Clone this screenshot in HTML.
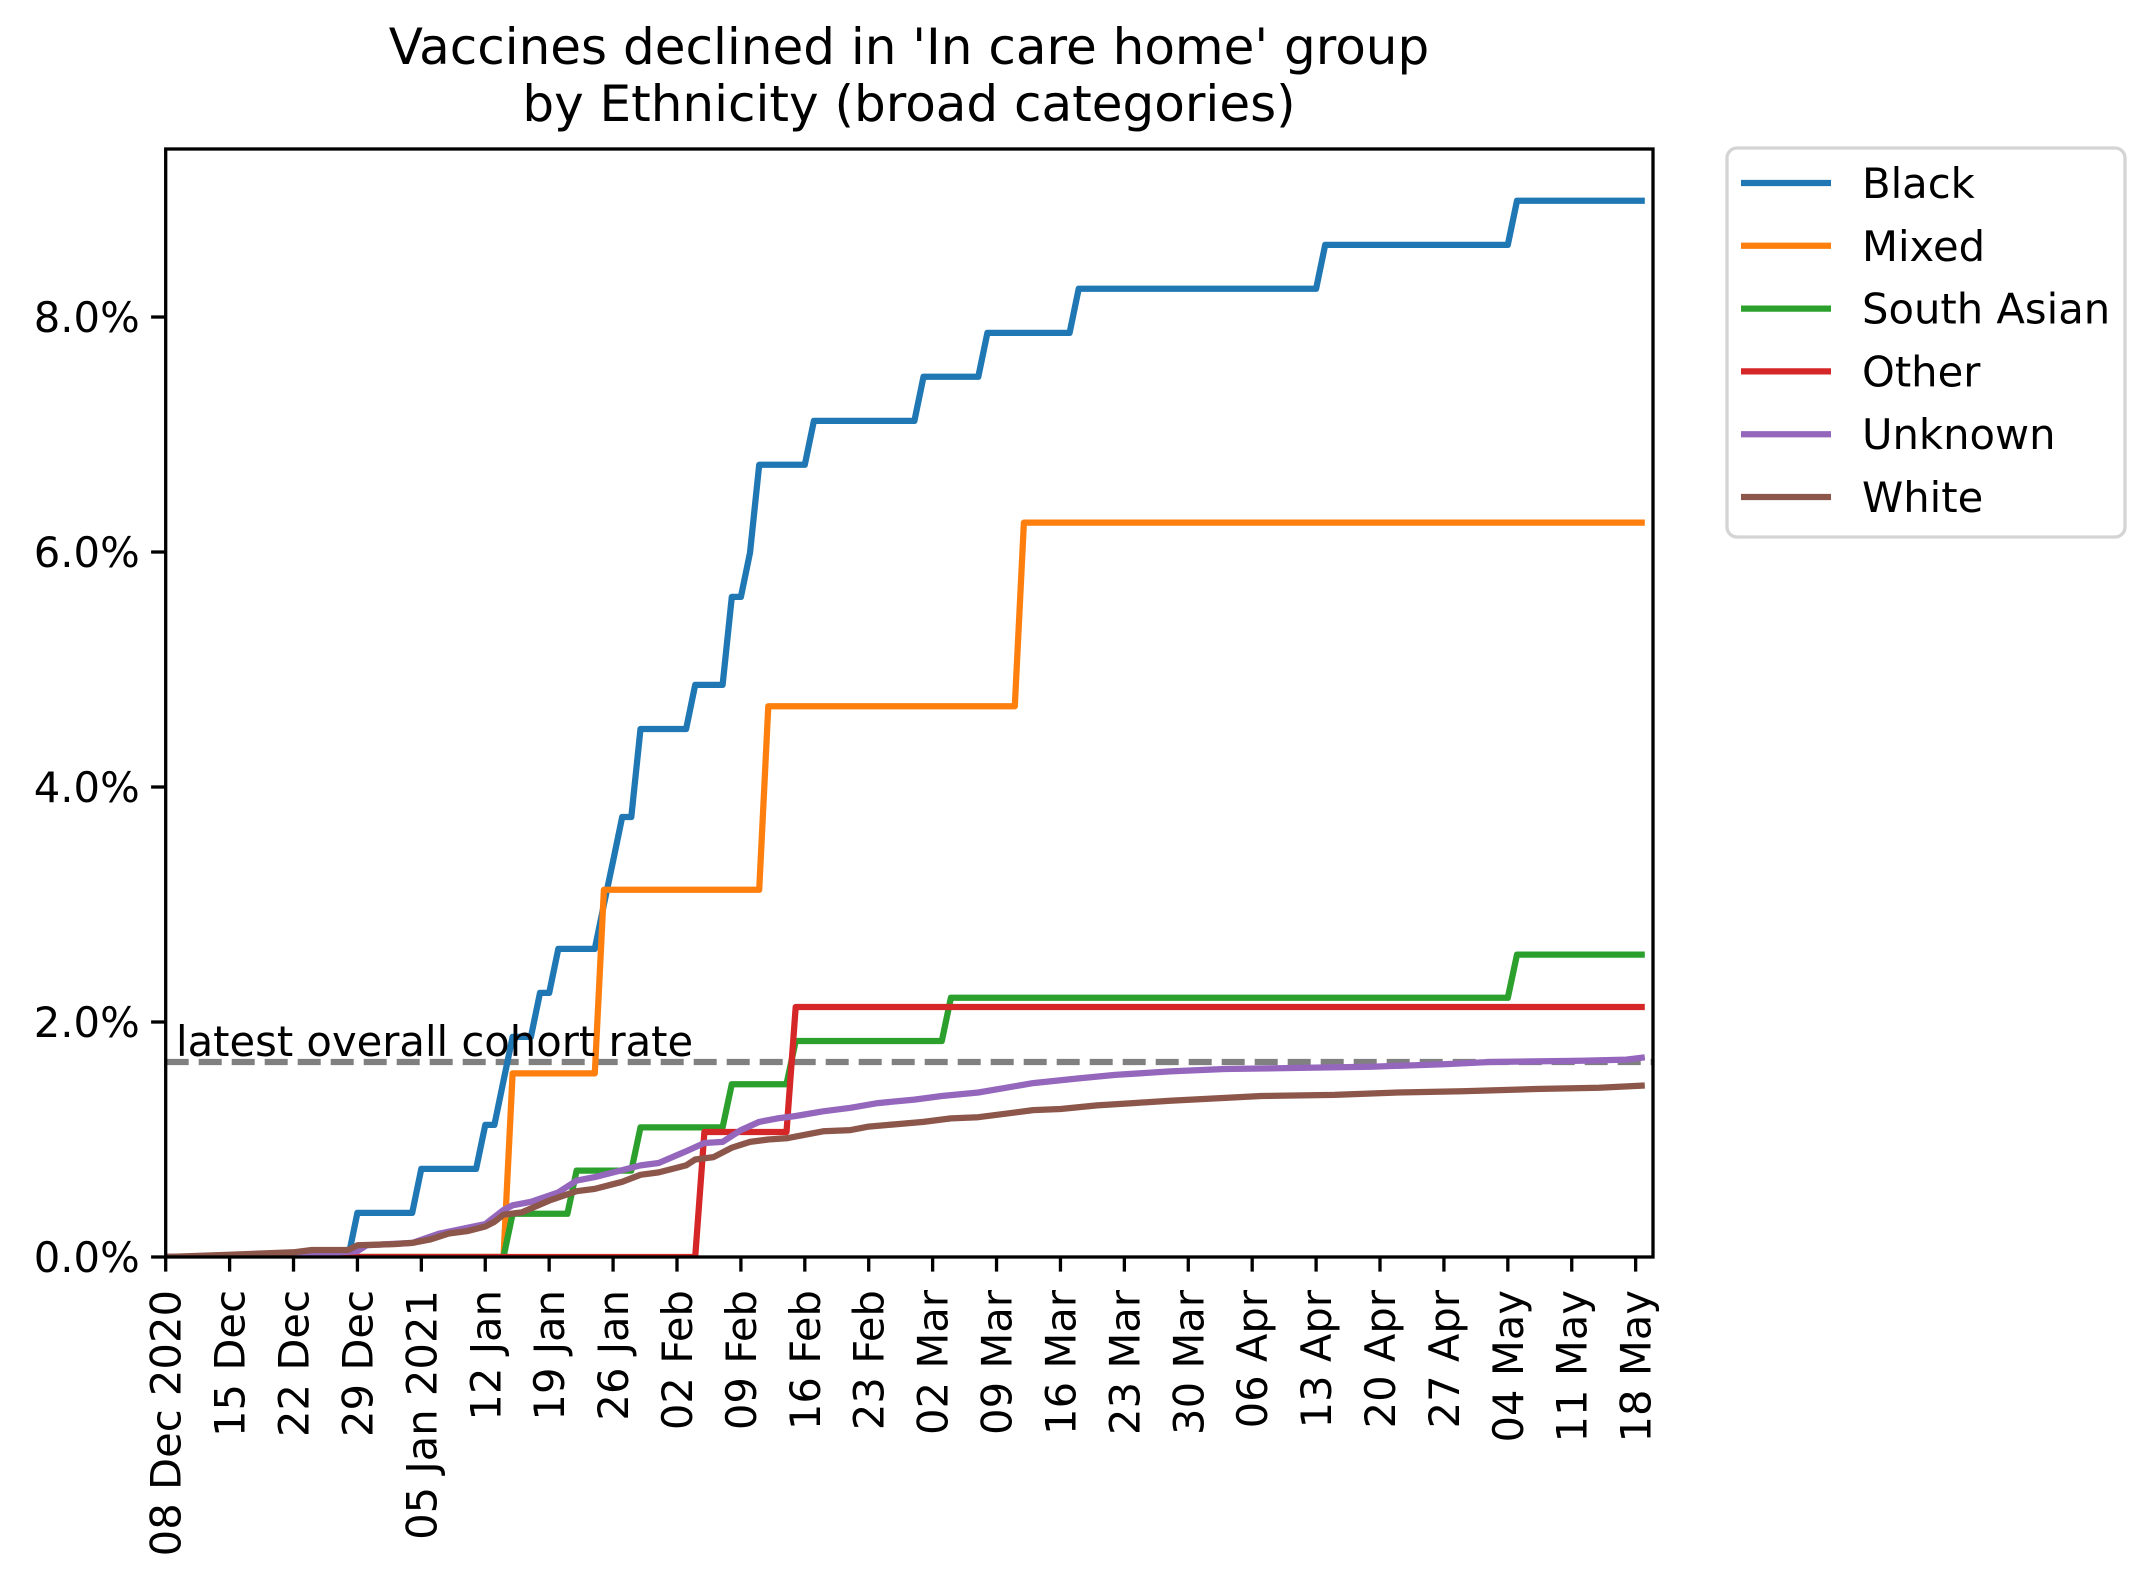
<!DOCTYPE html>
<html><head><meta charset="utf-8"><style>
html,body{margin:0;padding:0;background:#fff}
svg{display:block;font-family:"DejaVu Sans","Liberation Sans",sans-serif}
</style></head><body>
<svg id="chart" width="2155" height="1582" viewBox="0 0 2155 1582" xmlns="http://www.w3.org/2000/svg">
<rect width="2155" height="1582" fill="#fff"/>
<text x="909" y="64" font-size="50" text-anchor="middle">Vaccines declined in 'In care home' group</text>
<text x="909" y="121" font-size="50" text-anchor="middle">by Ethnicity (broad categories)</text>
<g id="plot"></g>
<g id="legend"></g>
</svg>
<script>
// ---- data ----
const seriesNames = ["Black","Mixed","South Asian","Other","Unknown","White"];
const seriesColors = ["#1f77b4","#ff7f0e","#2ca02c","#d62728","#9467bd","#8c564b"];
const xTickLabels = ["08 Dec 2020","15 Dec","22 Dec","29 Dec","05 Jan 2021","12 Jan","19 Jan","26 Jan","02 Feb","09 Feb","16 Feb","23 Feb","02 Mar","09 Mar","16 Mar","23 Mar","30 Mar","06 Apr","13 Apr","20 Apr","27 Apr","04 May","11 May","18 May"];
const xTickDays = [0,7,14,21,28,35,42,49,56,63,70,77,84,91,98,105,112,119,126,133,140,147,154,161];
const yTickValues = [0,2,4,6,8];
const cohortRate = 1.66;

const blackDays = [0,20,21,27,28,34,35,36,37,38,40,41,42,43,47,48,49,50,51,52,57,58,61,62,63,64,65,70,71,82,83,89,90,99,100,126,127,147,148,162];
const blackVals = [0,0,0.375,0.375,0.75,0.75,1.124,1.124,1.5,1.873,1.873,2.248,2.248,2.622,2.622,3.0,3.37,3.745,3.745,4.494,4.494,4.869,4.869,5.618,5.618,5.993,6.742,6.742,7.116,7.116,7.491,7.491,7.865,7.865,8.24,8.24,8.614,8.614,8.989,8.989];
const mixedDays = [0,37,38,47,48,65,66,93,94,162];
const mixedVals = [0,0,1.5625,1.5625,3.125,3.125,4.6875,4.6875,6.25,6.25];
const southAsianDays = [0,37,38,44,45,51,52,61,62,68,69,85,86,147,148,162];
const southAsianVals = [0,0,0.368,0.368,0.735,0.735,1.103,1.103,1.471,1.471,1.838,1.838,2.206,2.206,2.574,2.574];
const otherDays = [0,58,59,68,69,162];
const otherVals = [0,0,1.064,1.064,2.128,2.128];
const unknownDays = [0,15,21,22,27,30,35,37,38,40,43,45,47,50,52,54,57,59,61,63,65,67,69,72,75,78,82,85,89,92,95,100,104,110,116,125,132,140,145,155,160,162];
const unknownVals = [0,0.02,0.05,0.1,0.12,0.2,0.28,0.4,0.44,0.47,0.55,0.65,0.68,0.74,0.78,0.8,0.9,0.97,0.98,1.08,1.15,1.18,1.2,1.24,1.27,1.31,1.34,1.37,1.4,1.44,1.48,1.52,1.55,1.58,1.6,1.61,1.62,1.64,1.66,1.67,1.68,1.7];
const whiteDays = [0,7,14,16,20,21,25,27,29,31,33,35,36,37,39,42,45,47,50,52,54,57,58,60,62,64,66,68,70,72,75,77,80,83,86,89,92,95,98,102,106,110,115,120,128,135,142,150,157,162];
const whiteVals = [0,0.02,0.04,0.06,0.06,0.1,0.11,0.12,0.15,0.2,0.22,0.26,0.3,0.36,0.38,0.48,0.56,0.58,0.64,0.7,0.72,0.78,0.83,0.85,0.93,0.98,1.0,1.01,1.04,1.07,1.08,1.11,1.13,1.15,1.18,1.19,1.22,1.25,1.26,1.29,1.31,1.33,1.35,1.37,1.38,1.4,1.41,1.43,1.44,1.46];

// ---- layout ----
const L=165.7, R=1653, T=149, B=1257;
const xMax=162.9, yMax=9.43;
function xs(d){return L + d/xMax*(R-L);}
function ys(v){return B - v/yMax*(B-T);}
const NS="http://www.w3.org/2000/svg";
function mk(tag, attrs, parent){const e=document.createElementNS(NS,tag);for(const k in attrs)e.setAttribute(k,attrs[k]);parent.appendChild(e);return e;}
const plot=document.getElementById('plot');
const legend=document.getElementById('legend');

// cohort line
const cl=mk('line',{x1:L,x2:R,y1:ys(cohortRate),y2:ys(cohortRate),stroke:'#808080','stroke-width':6.25,'stroke-dasharray':'23,10'},plot);



// series
const allDays=[blackDays,mixedDays,southAsianDays,otherDays,unknownDays,whiteDays];
const allVals=[blackVals,mixedVals,southAsianVals,otherVals,unknownVals,whiteVals];
for(let s=0;s<seriesNames.length;s++){
  const pts=allDays[s].map((d,i)=>xs(d).toFixed(1)+','+ys(allVals[s][i]).toFixed(1)).join(' ');
  const pl=mk('polyline',{points:pts,fill:'none',stroke:seriesColors[s],'stroke-width':6.25,'stroke-linejoin':'round','clip-path':'url(#clip)'},plot);
  
  
}
const defs=mk('defs',{},document.getElementById('chart'));
const cp=mk('clipPath',{id:'clip'},defs);
mk('rect',{x:L,y:T,width:R-L,height:B-T},cp);

// annotation
const ann=mk('text',{x:176,y:ys(cohortRate)-6,'font-size':41.7},plot);
ann.textContent='latest overall cohort rate';



// spines
const fr=mk('rect',{x:L,y:T,width:R-L,height:B-T,fill:'none',stroke:'#000','stroke-width':3.3},plot);



// y ticks
yTickValues.forEach(v=>{
  const y=ys(v);
  const t=mk('line',{x1:L-14.6,x2:L,y1:y,y2:y,stroke:'#000','stroke-width':3.3},plot);
  
  
  const lb=mk('text',{x:L-26,y:y+15,'font-size':41.7,'text-anchor':'end'},plot);
  lb.textContent=v.toFixed(1)+'%';
  
  
});
// x ticks
xTickDays.forEach((d,i)=>{
  const x=xs(d);
  const t=mk('line',{x1:x,x2:x,y1:B,y2:B+14.6,stroke:'#000','stroke-width':3.3},plot);
  
  
  const lb=mk('text',{x:0,y:0,'font-size':41.7,'text-anchor':'end',transform:'translate('+(x+15)+','+(B+33)+') rotate(-90)'},plot);
  lb.textContent=xTickLabels[i];
  
  
});

// legend
const lf=mk('rect',{x:1727,y:148,width:398,height:389,rx:10,fill:'#fff',stroke:'#d4d4d4','stroke-width':3.3},legend);


seriesNames.forEach((n,i)=>{
  const y=183+i*62.8;
  const g=mk('g',{},legend);
  
  
  mk('line',{x1:1741,x2:1831,y1:y,y2:y,stroke:seriesColors[i],'stroke-width':6.25},g);
  const tx=mk('text',{x:1862,y:y+15,'font-size':41.7},g);
  tx.textContent=n;
});
</script>
</body></html>
